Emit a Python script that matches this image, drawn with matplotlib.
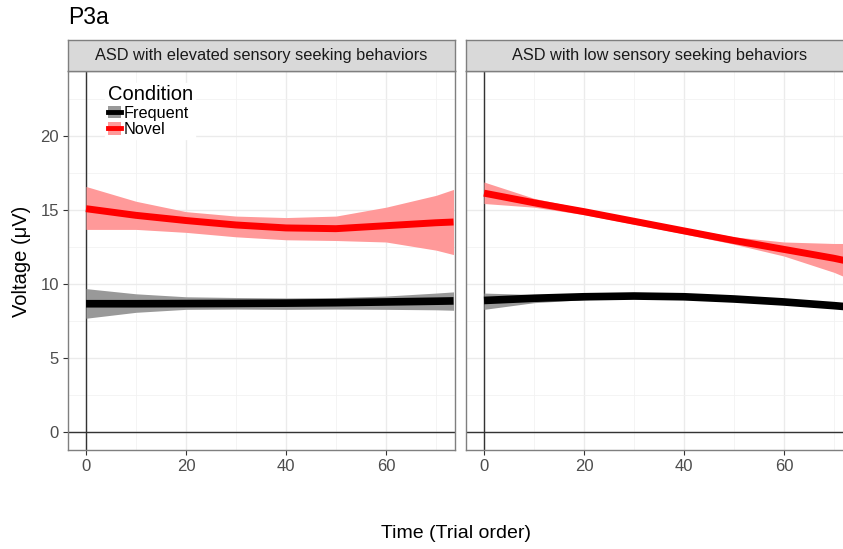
import numpy as np
import matplotlib.pyplot as plt
from matplotlib.patches import Patch
from matplotlib.lines import Line2D
from matplotlib import font_manager

# ---- data ----
panels = ['ASD with elevated sensory seeking behaviors', 'ASD with low sensory seeking behaviors']

x_left = [0, 10, 20, 30, 40, 50, 60, 70, 73.5]
nov_left = [15.1, 14.65, 14.3, 14.0, 13.8, 13.75, 13.95, 14.15, 14.2]
nov_left_hi = [16.6, 15.6, 14.9, 14.6, 14.5, 14.6, 15.2, 16.0, 16.4]
nov_left_lo = [13.7, 13.7, 13.5, 13.2, 13.0, 12.95, 12.85, 12.3, 12.0]
freq_left = [8.68, 8.68, 8.69, 8.7, 8.72, 8.75, 8.8, 8.85, 8.87]
freq_left_hi = [9.7, 9.35, 9.15, 9.1, 9.07, 9.1, 9.2, 9.4, 9.48]
freq_left_lo = [7.7, 8.1, 8.3, 8.32, 8.3, 8.32, 8.3, 8.27, 8.24]

x_right = [0, 10, 20, 30, 40, 50, 60, 70, 73.5]
nov_right = [16.15, 15.5, 14.9, 14.25, 13.6, 12.95, 12.35, 11.75, 11.5]
nov_right_hi = [16.9, 15.8, 15.1, 14.45, 13.8, 13.2, 12.85, 12.75, 12.75]
nov_right_lo = [15.45, 15.2, 14.7, 14.05, 13.4, 12.7, 11.9, 10.8, 10.3]
freq_right = [8.9, 9.05, 9.15, 9.2, 9.15, 9.0, 8.8, 8.55, 8.45]
freq_right_hi = [9.4, 9.3, 9.3, 9.3, 9.25, 9.1, 8.9, 8.65, 8.6]
freq_right_lo = [8.3, 8.75, 8.95, 9.1, 9.05, 8.9, 8.7, 8.42, 8.33]

x_ticks = [0, 20, 40, 60]
y_ticks = [0, 5, 10, 15, 20]

# ---- style ----
names = {f.name for f in font_manager.fontManager.ttflist}
base_font = ['Liberation Sans', 'DejaVu Sans']
narrow = ['Liberation Sans Narrow'] + base_font if 'Liberation Sans Narrow' in names else base_font
plt.rcParams['font.family'] = base_font

W, H = 843, 549
fig = plt.figure(figsize=(W / 100, H / 100), dpi=100)

def frac(px_left, px_top, px_w, px_h):
    return [px_left / W, 1 - (px_top + px_h) / H, px_w / W, px_h / H]

panel_top, panel_h, panel_w = 71, 379, 387
lefts = [68, 466]
data = [
    (x_left, freq_left, freq_left_lo, freq_left_hi, nov_left, nov_left_lo, nov_left_hi),
    (x_right, freq_right, freq_right_lo, freq_right_hi, nov_right, nov_right_lo, nov_right_hi),
]

axes = []
for i, left in enumerate(lefts):
    ax = fig.add_axes(frac(left, panel_top, panel_w, panel_h))
    axes.append(ax)
    x, f, flo, fhi, n, nlo, nhi = data[i]

    ax.set_xlim(-3.6, 73.8)
    ax.set_ylim(-1.2, 24.4)
    ax.set_xticks(x_ticks)
    ax.set_xticks([10, 30, 50, 70], minor=True)
    ax.set_yticks(y_ticks)
    ax.set_yticks([2.5, 7.5, 12.5, 17.5, 22.5], minor=True)
    ax.grid(which='major', color='#EBEBEB', lw=1.0)
    ax.grid(which='minor', color='#F2F2F2', lw=0.6)
    ax.set_axisbelow(True)
    ax.tick_params(which='minor', length=0)
    ax.tick_params(which='major', length=3.5, color='#333333', width=0.8,
                   labelsize=12, labelcolor='#4D4D4D', pad=3)
    for lab in ax.get_xticklabels() + ax.get_yticklabels():
        lab.set_family(narrow)
    for s in ax.spines.values():
        s.set_color('#7F7F7F')
        s.set_linewidth(1.0)
    if i == 1:
        ax.tick_params(axis='y', left=False, labelleft=False)

    ax.axhline(0, color='#333333', lw=1.0, zorder=1)
    ax.axvline(0, color='#333333', lw=1.0, zorder=1)

    ax.fill_between(x, flo, fhi, color='#999999', lw=0, zorder=2)
    ax.plot(x, f, color='black', lw=5.5, solid_capstyle='butt', zorder=3)
    ax.fill_between(x, nlo, nhi, color='#FF9999', lw=0, zorder=4)
    ax.plot(x, n, color='red', lw=5, solid_capstyle='butt', zorder=5)

    # facet strip
    sax = fig.add_axes(frac(left, 40, panel_w, 31))
    sax.set_facecolor('#D9D9D9')
    sax.set_xticks([])
    sax.set_yticks([])
    for s in sax.spines.values():
        s.set_color('#7F7F7F')
        s.set_linewidth(1.0)
    sax.text(0.5, 0.5, panels[i], ha='center', va='center', fontsize=11.8,
             color='#1A1A1A', transform=sax.transAxes)

# legend inside left panel
handles = [
    (Patch(facecolor='#999999', edgecolor='none'), Line2D([], [], color='black', lw=3.5)),
    (Patch(facecolor='#FF9999', edgecolor='none'), Line2D([], [], color='red', lw=3.5)),
]
leg = axes[0].legend(handles, ['Frequent', 'Novel'], title='Condition',
                     loc='upper left', bbox_to_anchor=(0.075, 0.99),
                     frameon=True, fancybox=False, framealpha=1, edgecolor='white',
                     fontsize=11.7, title_fontsize=14.5, handlelength=0.85, handleheight=0.8,
                     handletextpad=0.15, labelspacing=0.08, borderpad=0.15)
leg._legend_box.align = 'left'

fig.text(68 / W, 1 - 18 / H, 'P3a', fontsize=16.5, ha='left', va='center')
fig.text(22 / W, 1 - 261 / H, 'Voltage (\u03bcV)', fontsize=14.5, rotation=90,
         ha='center', va='center')
fig.text(456 / W, 1 - 533 / H, 'Time (Trial order)', fontsize=14, ha='center',
         va='center', family=narrow)

fig.savefig('out.png', dpi=100)
